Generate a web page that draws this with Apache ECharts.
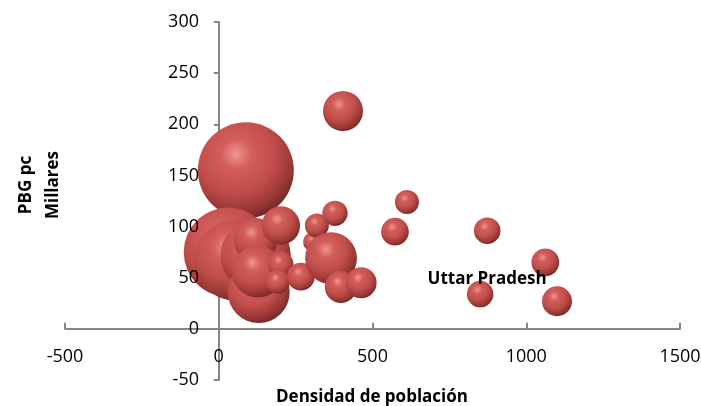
<!DOCTYPE html>
<html>
<head>
<meta charset="utf-8">
<script src="https://cdn.jsdelivr.net/npm/echarts@6/dist/echarts.min.js"></script>
<style>html,body{margin:0;padding:0;background:#fff;}#c{width:701px;height:406px;}</style>
</head>
<body>
<div id="c"></div>
<script>
// Density (x), GDP per capita in thousands (y), bubble size (relative)
var densidad = [88, 31, 50, 120, 120, 130, 127, 202, 202, 192, 267, 306, 319, 378, 365, 397, 463, 404, 612, 573, 873, 1062, 850, 1100];
var pbg      = [155, 75, 67, 72, 87, 36, 56, 101, 63, 46, 51, 85, 101, 113, 69, 41, 45, 213, 124, 95, 96, 65, 34, 27];
var tamano   = [144, 124, 100, 77, 30, 60, 42, 23, 10, 9, 12, 6, 9, 10, 42, 16, 15, 25, 9, 12, 11, 12, 11, 14];
var etiquetas = ['', '', '', '', '', '', '', '', '', '', '', '', '', '', '', '', '', '', '', '', '', '', 'Uttar Pradesh', ''];
var xTicks = {min: -500, max: 1500, interval: 500};
var yTicks = {min: -50, max: 300, interval: 50};

var FONT = '"Open Sans", "Liberation Sans", sans-serif';
var sphere = {
  type: 'radial', x: 0.4, y: 0.33, r: 0.72,
  colorStops: [
    {offset: 0, color: '#ee9693'},
    {offset: 0.22, color: '#d35e5b'},
    {offset: 0.55, color: '#c04e4b'},
    {offset: 0.82, color: '#983735'},
    {offset: 1, color: '#6a2422'}
  ]
};

var data = densidad.map(function (x, i) {
  var item = {value: [x, pbg[i], tamano[i]], name: etiquetas[i]};
  if (etiquetas[i]) {
    item.label = {
      show: true, formatter: '{b}', position: 'inside', offset: [7, -15],
      color: '#000', fontWeight: 'bold', fontSize: 17, fontFamily: FONT
    };
  }
  return item;
});

var chart = echarts.init(document.getElementById('c'));
chart.setOption({
  animation: false,
  backgroundColor: '#fff',
  grid: {left: 65, right: 21, top: 22, bottom: 26, containLabel: false, outerBoundsMode: 'none'},
  xAxis: {
    type: 'value', min: xTicks.min, max: xTicks.max, interval: xTicks.interval,
    axisLine: {onZero: true, lineStyle: {color: '#868686', width: 2}},
    axisTick: {show: true, inside: true, length: 6, lineStyle: {color: '#868686', width: 2}},
    axisLabel: {color: '#000', fontSize: 18, fontFamily: FONT, margin: -32,
      formatter: function (v) { return String(v); }},
    splitLine: {show: false}
  },
  yAxis: [{
    type: 'value', min: yTicks.min, max: yTicks.max, interval: yTicks.interval,
    axisLine: {show: true, onZero: true, lineStyle: {color: '#868686', width: 2}},
    axisTick: {show: true, inside: false, length: 5, lineStyle: {color: '#868686', width: 2}},
    axisLabel: {show: false},
    splitLine: {show: false}
  }, {
    type: 'value', position: 'left', min: yTicks.min, max: yTicks.max, interval: yTicks.interval,
    zlevel: 1, z: 10,
    axisLine: {show: false, onZero: false},
    axisTick: {show: false},
    axisLabel: {color: '#000', fontSize: 18, fontFamily: FONT, margin: -134,
      formatter: function (v) { return String(v); }},
    splitLine: {show: false}
  }],
  graphic: [
    {type: 'text', x: 26, y: 185, rotation: Math.PI / 2,
     style: {text: 'PBG pc', align: 'center', verticalAlign: 'middle', fill: '#000', font: 'bold 17px ' + FONT}},
    {type: 'text', x: 53, y: 185, rotation: Math.PI / 2,
     style: {text: 'Millares', align: 'center', verticalAlign: 'middle', fill: '#000', font: 'bold 17px ' + FONT}},
    {type: 'text', x: 372, y: 397,
     style: {text: 'Densidad de población', align: 'center', verticalAlign: 'middle', fill: '#000', font: 'bold 17px ' + FONT}}
  ],
  series: [{
    type: 'scatter',
    yAxisIndex: 0,
    data: data,
    symbolSize: function (v) { return 8 * Math.sqrt(v[2]); },
    itemStyle: {color: sphere, opacity: 1},
    emphasis: {disabled: true},
    z: 2
  }]
});
</script>
</body>
</html>
